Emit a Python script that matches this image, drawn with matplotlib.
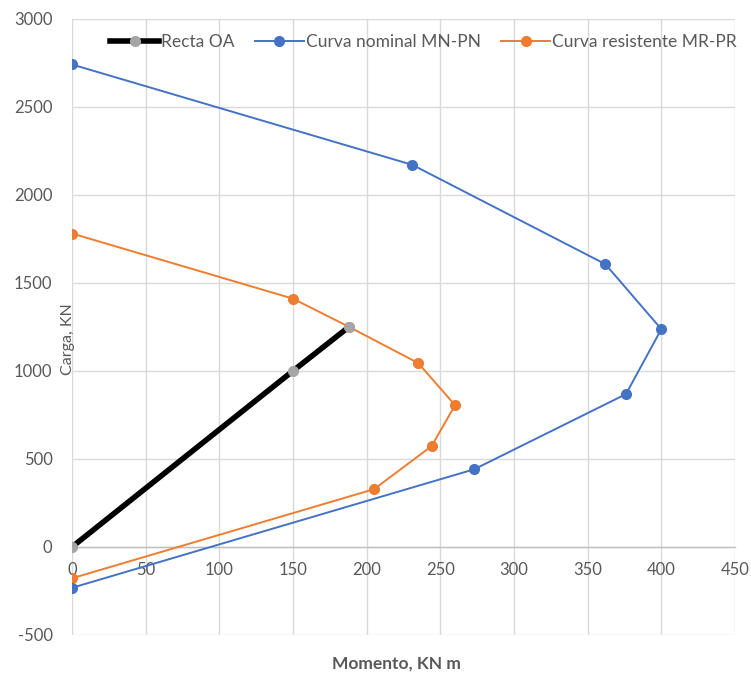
import numpy as np
import matplotlib
matplotlib.use("Agg")
import matplotlib.pyplot as plt

# data
oa_m = [0, 150, 188]
oa_p = [0, 1000, 1250]

nominal_m = [0, 231, 362, 400, 376, 273, 0]
nominal_p = [2740, 2170, 1606, 1237, 868, 441, -232]

resist_m = [0, 150, 188, 235, 260, 244, 205, 0]
resist_p = [1780, 1410, 1250, 1044, 805, 572, 328, -178]

x_ticks = [0, 50, 100, 150, 200, 250, 300, 350, 400, 450]
y_ticks = [-500, 0, 500, 1000, 1500, 2000, 2500, 3000]

plt.rcParams['font.family'] = ['Lato', 'DejaVu Sans']
plt.rcParams['axes.unicode_minus'] = False
txt_color = '#595959'
grid_color = '#d9d9d9'

fig = plt.figure(figsize=(7.51, 6.75), dpi=100)
ax = fig.add_axes([0.0959, 0.0593, 0.8828, 0.913])

ax.plot(resist_m, resist_p, color='#ED7D31', lw=1.4, marker='o', ms=7,
        label='Curva resistente MR-PR', zorder=3)
ax.plot(nominal_m, nominal_p, color='#4472C4', lw=1.4, marker='o', ms=7,
        label='Curva nominal MN-PN', zorder=3)
ax.plot(oa_m, oa_p, color='black', lw=4, marker='o', ms=7,
        mfc='#A5A5A5', mec='#A5A5A5', label='Recta OA', zorder=4)

ax.set_xlim(0, 450)
ax.set_ylim(-500, 3000)
ax.set_xticks(x_ticks)
ax.set_yticks(y_ticks)
ax.grid(True, color=grid_color, lw=1)
ax.set_axisbelow(True)

for s in ['top', 'right', 'left']:
    ax.spines[s].set_visible(False)
ax.spines['bottom'].set_position(('data', 0))
ax.spines['bottom'].set_color('#bfbfbf')
ax.spines['bottom'].set_linewidth(1)

ax.tick_params(length=0, colors=txt_color, labelsize=12)
ax.tick_params(axis='x', pad=11)
ax.tick_params(axis='y', pad=14)

ax.set_xlabel('Momento, KN m', fontsize=12.5, fontweight='bold',
              color=txt_color, va='center')
ax.xaxis.set_label_coords(0.49, -0.046)
ax.set_ylabel('Carga, KN', fontsize=11.5, color=txt_color, va='center')
ax.yaxis.set_label_coords(-0.006, 0.48)

handles, labels = ax.get_legend_handles_labels()
order = [2, 1, 0]
leg = ax.legend([handles[i] for i in order], [labels[i] for i in order],
                loc='upper center', bbox_to_anchor=(0.53, 1.0), ncol=3,
                frameon=False, fontsize=12.5, handlelength=2.8,
                handletextpad=0.1, columnspacing=1.2)
for t in leg.get_texts():
    t.set_color(txt_color)

fig.savefig('out.png', dpi=100)
